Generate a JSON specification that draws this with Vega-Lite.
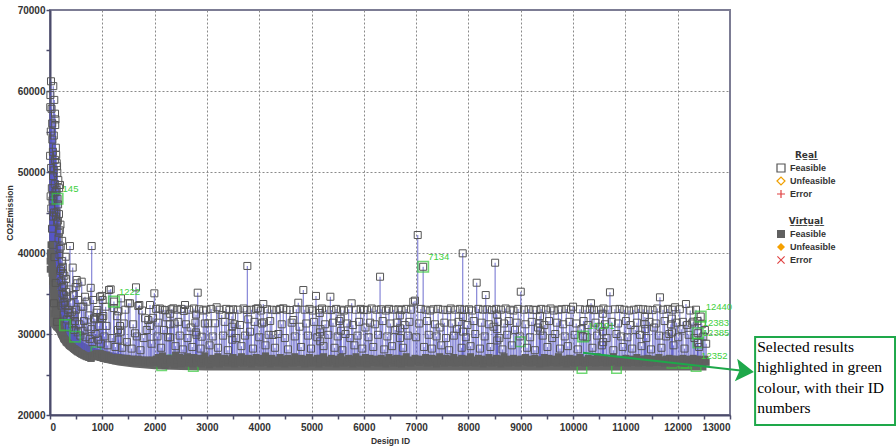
{
  "$schema": "https://vega.github.io/schema/vega-lite/v6.json",
  "width": 680,
  "height": 405,
  "autosize": {"type": "none"},
  "padding": {"left": 50, "top": 10, "right": 166, "bottom": 31},
  "background": "white",
  "datasets": {
    "band": [
      {"i": 0, "v": 31000, "v2": 42000}, {"i": 15, "v": 30900, "v2": 40500}, {"i": 30, "v": 30800, "v2": 39500},
      {"i": 60, "v": 30600, "v2": 37500}, {"i": 100, "v": 30300, "v2": 35500}, {"i": 150, "v": 29900, "v2": 34000},
      {"i": 200, "v": 29400, "v2": 32800}, {"i": 300, "v": 28600, "v2": 31300}, {"i": 400, "v": 28000, "v2": 30300},
      {"i": 500, "v": 27600, "v2": 29600}, {"i": 600, "v": 27300, "v2": 29100}, {"i": 800, "v": 26900, "v2": 28400},
      {"i": 1000, "v": 26500, "v2": 28000}, {"i": 1300, "v": 26100, "v2": 27600}, {"i": 1600, "v": 25850, "v2": 27300},
      {"i": 2000, "v": 25650, "v2": 27100}, {"i": 2500, "v": 25550, "v2": 26900}, {"i": 3000, "v": 25500, "v2": 26800},
      {"i": 12550, "v": 25500, "v2": 26750}
    ],
    "pts": [
      {"i":2,"v":52000,"b":39000},{"i":15,"v":55000,"b":40000},{"i":22,"v":50500,"b":39500},{"i":35,"v":48000,"b":38500},
      {"i":42,"v":56000,"b":38000},{"i":48,"v":46500,"b":37500},{"i":58,"v":49500,"b":36500},{"i":66,"v":47000,"b":36000},
      {"i":73,"v":54500,"b":35500},{"i":79,"v":45000,"b":35000},{"i":93,"v":51500,"b":34500},{"i":103,"v":47500,"b":34000},
      {"i":115,"v":44500,"b":33500},{"i":125,"v":47800,"b":33000},{"i":138,"v":43800,"b":32500},{"i":155,"v":46000,"b":32000},
      {"i":163,"v":41800,"b":31500},{"i":172,"v":44800,"b":31200},{"i":180,"v":39800,"b":31000},{"i":188,"v":42800,"b":30800},
      {"i":196,"v":37800,"b":30500},{"i":205,"v":40800,"b":30300},{"i":215,"v":36500,"b":30100},{"i":226,"v":39000,"b":30000},
      {"i":236,"v":35800,"b":29900},{"i":245,"v":38300,"b":29800},{"i":265,"v":34800,"b":29500},{"i":275,"v":37200,"b":29400},
      {"i":290,"v":33600,"b":29300},{"i":305,"v":36800,"b":29100},{"i":330,"v":34500,"b":28900},{"i":350,"v":32600,"b":28800},
      {"i":370,"v":35500,"b":28600},{"i":400,"v":33800,"b":28500},{"i":425,"v":31200,"b":28400},{"i":450,"v":34800,"b":28200},
      {"i":470,"v":32300,"b":28100},{"i":490,"v":35800,"b":28000},
      {"i":5,"v":58000,"b":38000},{"i":8,"v":59500,"b":40000},{"i":12,"v":47000,"b":39500},{"i":19,"v":61200,"b":41000},
      {"i":25,"v":45500,"b":40000},{"i":30,"v":57800,"b":39000},{"i":38,"v":43000,"b":37500},{"i":45,"v":54000,"b":38500},
      {"i":50,"v":41000,"b":36500},{"i":55,"v":52500,"b":37000},{"i":60,"v":44500,"b":36000},{"i":63,"v":60600,"b":37500},
      {"i":70,"v":50200,"b":35500},{"i":76,"v":33800,"b":32500},{"i":82,"v":58900,"b":36000},{"i":85,"v":39500,"b":34500},
      {"i":90,"v":48500,"b":35000},{"i":96,"v":57200,"b":34500},{"i":100,"v":55800,"b":34000},{"i":105,"v":56500,"b":33500},
      {"i":109,"v":36300,"b":33000},{"i":112,"v":53000,"b":33500},{"i":118,"v":52100,"b":33000},{"i":122,"v":45000,"b":32500},
      {"i":128,"v":51100,"b":32800},{"i":132,"v":31500,"b":30900},{"i":135,"v":50700,"b":32500},{"i":140,"v":49900,"b":32000},
      {"i":145,"v":46700,"b":32000},{"i":150,"v":44000,"b":31800},{"i":159,"v":49000,"b":31500},{"i":168,"v":42500,"b":31200},
      {"i":175,"v":48000,"b":31000},{"i":183,"v":40500,"b":30800},{"i":191,"v":48400,"b":30600},{"i":200,"v":43500,"b":30400},
      {"i":210,"v":38000,"b":30200},{"i":220,"v":33500,"b":30000},{"i":232,"v":41500,"b":30000},{"i":240,"v":35000,"b":29800},
      {"i":250,"v":37500,"b":29700},{"i":255,"v":33800,"b":29600},{"i":260,"v":32400,"b":29500},{"i":270,"v":36000,"b":29400},
      {"i":280,"v":34000,"b":29300},{"i":300,"v":39540,"b":29200},{"i":310,"v":35200,"b":29000},{"i":320,"v":31800,"b":29000},
      {"i":340,"v":33000,"b":28900},{"i":360,"v":30800,"b":28700},{"i":382,"v":40860,"b":28600},{"i":390,"v":32200,"b":28500},
      {"i":415,"v":32750,"b":28400},{"i":434,"v":38200,"b":28300},{"i":460,"v":30500,"b":28200},{"i":480,"v":31600,"b":28100},
      {"i":500,"v":33000,"b":28000},{"i":510,"v":36670,"b":27900},{"i":522,"v":36260,"b":27900},{"i":530,"v":30200,"b":27800},
      {"i":541,"v":34200,"b":27800},{"i":560,"v":31200,"b":27700},{"i":580,"v":29800,"b":27600},{"i":600,"v":33370,"b":27600},
      {"i":606,"v":36460,"b":27500},{"i":620,"v":30400,"b":27500},{"i":637,"v":33370,"b":27400},{"i":650,"v":31600,"b":27400},
      {"i":669,"v":34600,"b":27300},{"i":680,"v":29600,"b":27300},{"i":701,"v":33990,"b":27200},{"i":720,"v":30900,"b":27200},
      {"i":740,"v":32300,"b":27100},{"i":760,"v":29400,"b":27100},{"i":778,"v":35700,"b":27000},{"i":790,"v":30600,"b":27000},
      {"i":797,"v":40860,"b":27300},{"i":810,"v":29000,"b":27300},{"i":828,"v":34200,"b":27400},{"i":841,"v":31940,"b":27200},
      {"i":860,"v":31810,"b":27500},{"i":870,"v":30000,"b":27300},{"i":892,"v":32630,"b":27600},{"i":905,"v":32960,"b":27400},
      {"i":920,"v":29300,"b":27200},{"i":940,"v":31000,"b":27500},{"i":956,"v":34600,"b":27300},{"i":960,"v":32000,"b":27600},
      {"i":970,"v":28800,"b":27100},{"i":988,"v":34700,"b":27400},{"i":1000,"v":31940,"b":27200},{"i":1007,"v":34200,"b":27500},
      {"i":1019,"v":32220,"b":27000},{"i":1040,"v":29700,"b":27300},{"i":1064,"v":33370,"b":27100},{"i":1080,"v":31000,"b":27400},
      {"i":1100,"v":28600,"b":26900},{"i":1128,"v":35430,"b":27200},{"i":1160,"v":35510,"b":27000},{"i":1190,"v":29500,"b":26800},
      {"i":1220,"v":33200,"b":27100},{"i":1222,"v":34000,"b":26900},{"i":1250,"v":28400,"b":26700},{"i":1280,"v":32200,"b":27000},
      {"i":1300,"v":30500,"b":26800},{"i":1305,"v":32800,"b":27100},{"i":1310,"v":29300,"b":26700},{"i":1338,"v":30990,"b":26900},
      {"i":1351,"v":30280,"b":27000},{"i":1357,"v":34400,"b":26800},{"i":1380,"v":28300,"b":26600},{"i":1410,"v":31300,"b":26900},
      {"i":1440,"v":33000,"b":26700},{"i":1470,"v":29000,"b":27000},{"i":1497,"v":33790,"b":26600},{"i":1529,"v":33790,"b":26800},
      {"i":1560,"v":28200,"b":26500},{"i":1590,"v":31200,"b":26900},{"i":1625,"v":30090,"b":26600},{"i":1644,"v":35760,"b":26800},
      {"i":1660,"v":29700,"b":26500},{"i":1688,"v":33460,"b":26900},{"i":1708,"v":33580,"b":26600},{"i":1730,"v":28000,"b":26800},
      {"i":1760,"v":32900,"b":26500},{"i":1790,"v":29500,"b":26700},{"i":1816,"v":31940,"b":26400},{"i":1849,"v":30490,"b":26800},
      {"i":1879,"v":31730,"b":26500},{"i":1912,"v":33580,"b":26700},{"i":1915,"v":31000,"b":26400},{"i":1940,"v":28800,"b":26600},
      {"i":1970,"v":32000,"b":26800},{"i":1995,"v":35020,"b":26500},
      {"i":2030,"v":33100,"b":26900},{"i":2055,"v":29700,"b":26500},{"i":2070,"v":31400,"b":27100},{"i":2100,"v":33150,"b":26300},
      {"i":2125,"v":28300,"b":26700},{"i":2150,"v":33000,"b":27300},{"i":2180,"v":30500,"b":26500},{"i":2200,"v":32950,"b":26100},
      {"i":2230,"v":32060,"b":26800},{"i":2260,"v":29600,"b":27000},{"i":2292,"v":31200,"b":26600},{"i":2294,"v":29590,"b":26400},
      {"i":2297,"v":32500,"b":26800},{"i":2320,"v":33050,"b":26600},{"i":2357,"v":33170,"b":26900},{"i":2380,"v":31300,"b":26200},
      {"i":2400,"v":28500,"b":27400},{"i":2430,"v":33000,"b":26500},{"i":2455,"v":31500,"b":26800},{"i":2480,"v":29800,"b":27100},
      {"i":2510,"v":33100,"b":26300},{"i":2540,"v":28100,"b":26600},{"i":2560,"v":32850,"b":27000},{"i":2581,"v":33580,"b":26700},
      {"i":2600,"v":31200,"b":26400},{"i":2630,"v":29500,"b":27200},{"i":2660,"v":33000,"b":26500},{"i":2690,"v":30800,"b":26900},
      {"i":2720,"v":28400,"b":26300},{"i":2750,"v":33150,"b":27100},{"i":2780,"v":31400,"b":26600},{"i":2788,"v":30200,"b":26800},
      {"i":2792,"v":32400,"b":26500},{"i":2800,"v":29900,"b":26800},{"i":2824,"v":35100,"b":26400},{"i":2850,"v":33050,"b":27000},
      {"i":2880,"v":28200,"b":26600},{"i":2900,"v":29670,"b":26300},{"i":2930,"v":32900,"b":26900},{"i":2960,"v":31300,"b":27300},
      {"i":2990,"v":33000,"b":26500},{"i":3027,"v":31320,"b":26700},{"i":3050,"v":28600,"b":26200},{"i":3080,"v":33100,"b":26800},
      {"i":3110,"v":29700,"b":27000},{"i":3155,"v":31320,"b":26400},{"i":3186,"v":33300,"b":26600},{"i":3210,"v":28300,"b":27200},
      {"i":3240,"v":33000,"b":26300},{"i":3282,"v":32350,"b":26900},{"i":3310,"v":29800,"b":26500},{"i":3340,"v":31500,"b":27000},
      {"i":3370,"v":33100,"b":26700},{"i":3400,"v":28000,"b":26400},{"i":3430,"v":32950,"b":26800},{"i":3473,"v":30090,"b":26600},
      {"i":3478,"v":32200,"b":26900},{"i":3482,"v":30900,"b":26500},{"i":3485,"v":29300,"b":27000},{"i":3500,"v":33050,"b":27100},
      {"i":3530,"v":31200,"b":26300},{"i":3560,"v":29500,"b":26900},{"i":3590,"v":33000,"b":26500},{"i":3632,"v":31110,"b":26700},
      {"i":3660,"v":28500,"b":27200},{"i":3700,"v":33150,"b":26400},{"i":3730,"v":29800,"b":26800},{"i":3760,"v":32960,"b":26600},
      {"i":3773,"v":38400,"b":26500},{"i":3791,"v":31810,"b":27000},{"i":3823,"v":30280,"b":26700},{"i":3850,"v":33000,"b":26300},
      {"i":3880,"v":28200,"b":26900},{"i":3910,"v":31500,"b":26500},{"i":3940,"v":33100,"b":27100},{"i":3971,"v":33170,"b":26600},
      {"i":4000,"v":29600,"b":26800},{"i":4030,"v":32900,"b":26400},{"i":4050,"v":31300,"b":27000},{"i":4078,"v":33700,"b":26700},
      {"i":4090,"v":31440,"b":26500},{"i":4120,"v":28600,"b":27300},{"i":4150,"v":33050,"b":26600},{"i":4180,"v":29900,"b":26900},
      {"i":4210,"v":31600,"b":26300},{"i":4240,"v":33000,"b":27000},{"i":4269,"v":29880,"b":26700},{"i":4300,"v":28300,"b":26500},
      {"i":4330,"v":32950,"b":26800},{"i":4365,"v":30000,"b":26400},{"i":4400,"v":33100,"b":27100},{"i":4430,"v":31200,"b":26600},
      {"i":4460,"v":33170,"b":26900},{"i":4490,"v":29500,"b":26300},{"i":4520,"v":33000,"b":26700},{"i":4550,"v":28100,"b":27000},
      {"i":4588,"v":32960,"b":26500},{"i":4620,"v":31400,"b":26800},{"i":4651,"v":31730,"b":26400},{"i":4680,"v":29700,"b":27200},
      {"i":4710,"v":33050,"b":26600},{"i":4747,"v":33860,"b":26800},{"i":4770,"v":30900,"b":26500},{"i":4800,"v":28400,"b":27000},
      {"i":4843,"v":35430,"b":26700},{"i":4870,"v":33000,"b":26300},{"i":4900,"v":31300,"b":26900},{"i":4930,"v":29800,"b":26600},
      {"i":4960,"v":33100,"b":27100},{"i":4990,"v":28200,"b":26400},{"i":5020,"v":32900,"b":26800},{"i":5050,"v":31500,"b":26500},
      {"i":5085,"v":34700,"b":26700},{"i":5110,"v":29600,"b":27000},{"i":5140,"v":33000,"b":26300},{"i":5158,"v":32600,"b":26800},
      {"i":5162,"v":30200,"b":26500},{"i":5165,"v":29100,"b":27000},{"i":5170,"v":30600,"b":26900},{"i":5200,"v":33150,"b":26600},
      {"i":5230,"v":28500,"b":27200},{"i":5260,"v":31200,"b":26500},{"i":5290,"v":33000,"b":26800},{"i":5320,"v":29900,"b":26400},
      {"i":5360,"v":34600,"b":26700},{"i":5380,"v":32950,"b":27000},{"i":5410,"v":31400,"b":26600},{"i":5440,"v":28300,"b":26900},
      {"i":5470,"v":33100,"b":26300},{"i":5500,"v":29700,"b":26800},{"i":5530,"v":31600,"b":26500},{"i":5558,"v":31900,"b":26900},
      {"i":5560,"v":33000,"b":27100},{"i":5562,"v":30400,"b":26600},{"i":5590,"v":28000,"b":26700},{"i":5620,"v":32900,"b":26400},
      {"i":5650,"v":30000,"b":26800},{"i":5680,"v":31300,"b":26600},{"i":5710,"v":33050,"b":27000},{"i":5740,"v":29500,"b":26500},
      {"i":5767,"v":33790,"b":26900},{"i":5790,"v":31100,"b":26300},{"i":5820,"v":28600,"b":26700},{"i":5850,"v":33000,"b":27200},
      {"i":5880,"v":29800,"b":26500},{"i":5910,"v":31500,"b":26800},{"i":5940,"v":33100,"b":26400},{"i":5970,"v":28200,"b":26900},
      {"i":6000,"v":32950,"b":26600},{"i":6030,"v":30800,"b":27100},{"i":6060,"v":33000,"b":26300},{"i":6090,"v":29600,"b":26700},
      {"i":6120,"v":31400,"b":27000},{"i":6150,"v":33150,"b":26500},{"i":6180,"v":28400,"b":26800},{"i":6210,"v":31200,"b":26600},
      {"i":6240,"v":33000,"b":26900},{"i":6270,"v":29900,"b":26400},{"i":6310,"v":37070,"b":26700},{"i":6330,"v":33050,"b":27000},
      {"i":6360,"v":31600,"b":26500},{"i":6390,"v":28100,"b":26800},{"i":6420,"v":32900,"b":26300},{"i":6450,"v":29700,"b":26700},
      {"i":6480,"v":33100,"b":27100},{"i":6510,"v":31300,"b":26600},{"i":6540,"v":28500,"b":26900},{"i":6570,"v":33000,"b":26400},
      {"i":6600,"v":30500,"b":26800},{"i":6630,"v":31400,"b":27000},{"i":6660,"v":33050,"b":26500},{"i":6688,"v":32300,"b":26900},
      {"i":6690,"v":29500,"b":26700},{"i":6692,"v":30700,"b":26400},{"i":6720,"v":32950,"b":26300},{"i":6750,"v":28300,"b":26900},
      {"i":6780,"v":31100,"b":26600},{"i":6810,"v":33100,"b":27200},{"i":6840,"v":29800,"b":26500},{"i":6870,"v":31500,"b":26800},
      {"i":6900,"v":33000,"b":26400},{"i":6945,"v":33990,"b":26700},{"i":6978,"v":34120,"b":27000},{"i":7000,"v":29600,"b":26600},
      {"i":7030,"v":42220,"b":26800},{"i":7060,"v":31300,"b":26500},{"i":7090,"v":33100,"b":26900},{"i":7134,"v":38300,"b":26800},
      {"i":7150,"v":28400,"b":26700},{"i":7180,"v":33000,"b":27100},{"i":7210,"v":31600,"b":26400},{"i":7240,"v":29900,"b":26800},
      {"i":7270,"v":32900,"b":26600},{"i":7300,"v":28200,"b":27000},{"i":7330,"v":33050,"b":26500},{"i":7360,"v":31200,"b":26900},
      {"i":7390,"v":29700,"b":26300},{"i":7420,"v":33100,"b":26700},{"i":7450,"v":30800,"b":27200},{"i":7480,"v":28600,"b":26600},
      {"i":7510,"v":33000,"b":26800},{"i":7540,"v":31400,"b":26400},{"i":7570,"v":29500,"b":27000},{"i":7600,"v":32950,"b":26700},
      {"i":7630,"v":28000,"b":26500},{"i":7660,"v":33150,"b":26900},{"i":7690,"v":31300,"b":26600},{"i":7720,"v":29800,"b":27100},
      {"i":7750,"v":33000,"b":26400},{"i":7780,"v":30600,"b":26800},{"i":7810,"v":31500,"b":26500},{"i":7840,"v":33100,"b":26700},
      {"i":7870,"v":28300,"b":27000},{"i":7890,"v":39960,"b":26600},{"i":7893,"v":32100,"b":26900},{"i":7898,"v":30300,"b":26500},
      {"i":7920,"v":33000,"b":26800},{"i":7950,"v":29600,"b":26400},{"i":7980,"v":31100,"b":26900},{"i":8010,"v":33050,"b":26600},
      {"i":8040,"v":28500,"b":27200},{"i":8070,"v":32900,"b":26500},{"i":8100,"v":31600,"b":26800},{"i":8130,"v":30000,"b":26400},
      {"i":8157,"v":36330,"b":26700},{"i":8190,"v":33100,"b":27000},{"i":8220,"v":28200,"b":26600},{"i":8250,"v":31400,"b":26900},
      {"i":8280,"v":33000,"b":26300},{"i":8310,"v":29700,"b":26700},{"i":8330,"v":34810,"b":26500},{"i":8360,"v":33050,"b":26800},
      {"i":8390,"v":31200,"b":27100},{"i":8420,"v":28400,"b":26600},{"i":8450,"v":32950,"b":26400},{"i":8480,"v":30900,"b":26800},
      {"i":8510,"v":38800,"b":26600},{"i":8530,"v":33100,"b":27000},{"i":8543,"v":32400,"b":26700},{"i":8548,"v":30600,"b":26500},
      {"i":8550,"v":29200,"b":26900},{"i":8560,"v":31500,"b":26500},{"i":8590,"v":29500,"b":26900},{"i":8620,"v":33000,"b":26300},
      {"i":8650,"v":28100,"b":26700},{"i":8680,"v":31300,"b":27200},{"i":8710,"v":33150,"b":26500},{"i":8740,"v":29900,"b":26800},
      {"i":8770,"v":31600,"b":26400},{"i":8800,"v":33000,"b":26900},{"i":8830,"v":28600,"b":26600},{"i":8860,"v":32900,"b":27000},
      {"i":8890,"v":30500,"b":26500},{"i":8920,"v":31400,"b":26800},{"i":8950,"v":33100,"b":26400},{"i":8980,"v":29700,"b":26700},
      {"i":9000,"v":35220,"b":26900},{"i":9060,"v":33000,"b":26600},{"i":9090,"v":31200,"b":27100},{"i":9120,"v":28300,"b":26500},
      {"i":9150,"v":33050,"b":26800},{"i":9180,"v":29600,"b":26400},{"i":9210,"v":31500,"b":26900},{"i":9240,"v":33000,"b":26600},
      {"i":9270,"v":28000,"b":27000},{"i":9300,"v":32950,"b":26500},{"i":9330,"v":30800,"b":26700},{"i":9360,"v":31300,"b":26300},
      {"i":9368,"v":32200,"b":26800},{"i":9372,"v":30400,"b":26600},{"i":9390,"v":33100,"b":26800},{"i":9420,"v":29800,"b":26600},
      {"i":9450,"v":31100,"b":27100},{"i":9480,"v":33000,"b":26400},{"i":9510,"v":28400,"b":26700},{"i":9540,"v":31600,"b":27000},
      {"i":9570,"v":33150,"b":26500},{"i":9600,"v":29500,"b":26900},{"i":9630,"v":32900,"b":26600},{"i":9660,"v":30000,"b":26800},
      {"i":9690,"v":31400,"b":26400},{"i":9720,"v":33000,"b":27200},{"i":9750,"v":28200,"b":26500},{"i":9780,"v":33050,"b":26800},
      {"i":9810,"v":31200,"b":26600},{"i":9840,"v":29700,"b":26900},{"i":9870,"v":33100,"b":26300},{"i":9900,"v":28500,"b":26700},
      {"i":9930,"v":31500,"b":27000},{"i":9960,"v":33000,"b":26500},{"i":10000,"v":33370,"b":26800},{"i":10030,"v":29900,"b":26400},
      {"i":10060,"v":31300,"b":26900},{"i":10090,"v":28100,"b":26600},{"i":10130,"v":33050,"b":27100},{"i":10160,"v":30600,"b":26500},
      {"i":10191,"v":29700,"b":26700},{"i":10200,"v":31600,"b":26800},{"i":10230,"v":33000,"b":26400},{"i":10260,"v":29600,"b":26700},
      {"i":10290,"v":31100,"b":27000},{"i":10320,"v":33100,"b":26500},{"i":10343,"v":33800,"b":26900},{"i":10370,"v":28300,"b":26600},
      {"i":10400,"v":32950,"b":26800},{"i":10430,"v":31400,"b":26400},{"i":10460,"v":29800,"b":27200},{"i":10490,"v":33000,"b":26500},
      {"i":10520,"v":30900,"b":26700},{"i":10550,"v":28600,"b":26900},{"i":10568,"v":32500,"b":26600},{"i":10572,"v":30300,"b":26800},
      {"i":10575,"v":29000,"b":26500},{"i":10580,"v":33150,"b":26600},{"i":10610,"v":31200,"b":27000},{"i":10640,"v":29500,"b":26400},
      {"i":10670,"v":33000,"b":26800},{"i":10705,"v":35150,"b":26500},{"i":10740,"v":31500,"b":26700},{"i":10770,"v":28000,"b":27100},
      {"i":10800,"v":33050,"b":26600},{"i":10830,"v":30000,"b":26800},{"i":10860,"v":31300,"b":26400},{"i":10890,"v":33100,"b":26900},
      {"i":10920,"v":29700,"b":26500},{"i":10950,"v":28400,"b":26800},{"i":10980,"v":33000,"b":26600},{"i":11010,"v":31600,"b":27000},
      {"i":11040,"v":29600,"b":26400},{"i":11070,"v":32900,"b":26700},{"i":11100,"v":31100,"b":26900},{"i":11130,"v":28200,"b":26500},
      {"i":11160,"v":33000,"b":26800},{"i":11190,"v":30500,"b":26600},{"i":11220,"v":31400,"b":27100},{"i":11250,"v":33100,"b":26400},
      {"i":11280,"v":29900,"b":26700},{"i":11310,"v":28500,"b":26900},{"i":11340,"v":33050,"b":26500},{"i":11370,"v":31200,"b":26800},
      {"i":11373,"v":32100,"b":26600},{"i":11378,"v":30600,"b":26900},{"i":11400,"v":29500,"b":26600},{"i":11430,"v":33000,"b":27000},
      {"i":11460,"v":31500,"b":26400},{"i":11490,"v":28100,"b":26700},{"i":11520,"v":32950,"b":26900},{"i":11550,"v":30800,"b":26500},
      {"i":11580,"v":31300,"b":26800},{"i":11610,"v":33150,"b":26600},{"i":11640,"v":29800,"b":27100},{"i":11661,"v":34530,"b":26700},
      {"i":11690,"v":28300,"b":26500},{"i":11720,"v":33000,"b":26800},{"i":11750,"v":31600,"b":26400},{"i":11780,"v":29700,"b":26900},
      {"i":11810,"v":33100,"b":26600},{"i":11840,"v":30000,"b":27000},{"i":11870,"v":31200,"b":26500},{"i":11888,"v":31900,"b":26700},
      {"i":11892,"v":30200,"b":26900},{"i":11900,"v":33000,"b":26800},{"i":11920,"v":28600,"b":26400},{"i":11950,"v":33300,"b":26700},
      {"i":11980,"v":31400,"b":26900},{"i":12010,"v":29600,"b":26500},{"i":12040,"v":33050,"b":26800},{"i":12070,"v":30600,"b":26600},
      {"i":12100,"v":31500,"b":27000},{"i":12130,"v":28200,"b":26400},{"i":12158,"v":33700,"b":26700},{"i":12180,"v":31100,"b":26900},
      {"i":12210,"v":29900,"b":26500},{"i":12240,"v":32900,"b":26800},{"i":12270,"v":31300,"b":26600},{"i":12298,"v":31520,"b":27000},
      {"i":12320,"v":29500,"b":26400},{"i":12350,"v":33000,"b":26700},{"i":12380,"v":31600,"b":26900},{"i":12383,"v":30100,"b":26600},
      {"i":12385,"v":28900,"b":26800},{"i":12410,"v":28400,"b":26500},{"i":12440,"v":32150,"b":26700},{"i":12460,"v":31200,"b":26800},
      {"i":12490,"v":29700,"b":26600},{"i":12520,"v":30500,"b":26900},{"i":12545,"v":28800,"b":26500}
    ],
    "sel": [
      {"i": 145, "v": 46700, "l": "145"},
      {"i": 1222, "v": 34000, "l": "1222"},
      {"i": 7134, "v": 38300, "l": "7134"},
      {"i": 10191, "v": 29700, "l": "10191"},
      {"i": 12440, "v": 32150, "l": "12440"},
      {"i": 12383, "v": 30100, "l": "12383"},
      {"i": 12385, "v": 28900, "l": "12385"},
      {"i": 12352, "v": 26000, "l": "12352"},
      {"i": 287, "v": 31100, "l": ""},
      {"i": 478, "v": 29670, "l": ""},
      {"i": 880, "v": 27800, "l": ""},
      {"i": 2135, "v": 26090, "l": ""},
      {"i": 2346, "v": 26790, "l": ""},
      {"i": 2740, "v": 26000, "l": ""},
      {"i": 8990, "v": 29050, "l": ""},
      {"i": 10170, "v": 25750, "l": ""},
      {"i": 10830, "v": 25750, "l": ""},
      {"i": 11890, "v": 26380, "l": ""},
      {"i": 12110, "v": 26380, "l": ""},
      {"i": 12170, "v": 26380, "l": ""}
    ],
    "box": [{"i": 13480, "i2": 16155, "v": 29630, "v2": 18765}],
    "arrow": [{"i": 10190, "v": 27690, "i2": 13286, "v2": 25432}],
    "note": [{"i": 13520, "v": 28430, "t": "Selected results\nhighlighted in green\ncolour, with their ID\nnumbers"}]
  },
  "encoding": {
    "x": {
      "field": "i", "type": "quantitative", "title": "Design ID",
      "scale": {"domain": [0, 13000], "nice": false, "zero": false},
      "axis": {
        "values": [0,500,1000,1500,2000,2500,3000,3500,4000,4500,5000,5500,6000,6500,7000,7500,8000,8500,9000,9500,10000,10500,11000,11500,12000,12500,13000],
        "format": "d",
        "labelExpr": "datum.value % 1000 === 0 ? datum.label : ''",
        "gridOpacity": {"condition": {"test": "datum.value % 1000 === 0 && datum.value > 0 && datum.value < 13000", "value": 1}, "value": 0},
        "labelPadding": 3,
        "titlePadding": 4
      }
    },
    "y": {
      "field": "v", "type": "quantitative", "title": "CO2Emission",
      "scale": {"domain": [20000, 70000], "nice": false, "zero": false},
      "axis": {
        "values": [20000,25000,30000,35000,40000,45000,50000,55000,60000,65000,70000],
        "format": "d",
        "labelExpr": "datum.value % 10000 === 0 ? datum.label : ''",
        "gridOpacity": {"condition": {"test": "datum.value % 10000 === 0 && datum.value > 20000 && datum.value < 70000", "value": 1}, "value": 0},
        "labelPadding": 1,
        "titlePadding": 3
      }
    }
  },
  "layer": [
    {
      "data": {"name": "band"},
      "mark": {"type": "area", "color": "#666666", "opacity": 1},
      "encoding": {
        "y": {"field": "v", "type": "quantitative", "title": "CO2Emission", "scale": {"domain": [20000, 70000], "nice": false, "zero": false}},
        "y2": {"field": "v2"}
      }
    },
    {
      "data": {"name": "pts"},
      "mark": {"type": "rule", "color": "#5858c8", "strokeWidth": 1.2, "opacity": 0.72},
      "encoding": {
        "y2": {"field": "b"}
      }
    },
    {
      "data": {"name": "sel"},
      "transform": [{"filter": "datum.v <= 29100"}],
      "mark": {"type": "point", "shape": "square", "filled": false, "size": 90, "color": "#35c83a", "strokeWidth": 1.5}
    },
    {
      "data": {"name": "pts"},
      "mark": {"type": "point", "filled": true, "size": 49, "opacity": 1},
      "encoding": {
        "y": {"field": "b", "type": "quantitative", "title": "CO2Emission", "scale": {"domain": [20000, 70000], "nice": false, "zero": false}},
        "shape": {
          "datum": "Feasible\u200b", "type": "nominal",
          "scale": {"domain": ["Feasible\u200b", "Unfeasible\u200b", "Error\u200b"], "range": ["square", "diamond", "M-1,-0.8L-0.8,-1L0,-0.2L0.8,-1L1,-0.8L0.2,0L1,0.8L0.8,1L0,0.2L-0.8,1L-1,0.8L-0.2,0Z"]},
          "legend": {"title": "V\u0332i\u0332r\u0332t\u0332u\u0332a\u0332l\u0332", "orient": "none", "legendX": 726, "legendY": 207, "rowPadding": 3}
        },
        "color": {
          "datum": "Feasible\u200b", "type": "nominal",
          "scale": {"domain": ["Feasible\u200b", "Unfeasible\u200b", "Error\u200b"], "range": ["#606060", "#f5a000", "#e04040"]},
          "legend": {"title": "V\u0332i\u0332r\u0332t\u0332u\u0332a\u0332l\u0332", "orient": "none", "legendX": 726, "legendY": 207, "rowPadding": 3}
        }
      }
    },
    {
      "data": {"name": "pts"},
      "mark": {"type": "point", "filled": false, "size": 49, "strokeWidth": 1, "opacity": 1},
      "encoding": {
        "shape": {
          "datum": "Feasible", "type": "nominal",
          "scale": {"domain": ["Feasible", "Unfeasible", "Error"], "range": ["square", "diamond", "M-1,0H1M0,-1V1"]},
          "legend": {"title": "R\u0332e\u0332a\u0332l\u0332", "orient": "none", "legendX": 726, "legendY": 141, "rowPadding": -1}
        },
        "color": {
          "datum": "Feasible", "type": "nominal",
          "scale": {"domain": ["Feasible", "Unfeasible", "Error"], "range": ["#555555", "#f0a000", "#e04040"]},
          "legend": {"title": "R\u0332e\u0332a\u0332l\u0332", "orient": "none", "legendX": 726, "legendY": 141, "rowPadding": -1}
        }
      }
    },
    {
      "data": {"name": "sel"},
      "transform": [{"filter": "datum.v > 29100"}],
      "mark": {"type": "point", "shape": "square", "filled": false, "size": 110, "color": "#35c83a", "strokeWidth": 1.6}
    },
    {
      "data": {"name": "sel"},
      "mark": {"type": "text", "align": "left", "baseline": "middle", "dx": 5, "dy": -10, "font": "Liberation Sans", "fontSize": 9.5, "color": "#3dd03d"},
      "encoding": {"text": {"field": "l"}}
    },
    {
      "data": {"name": "box"},
      "mark": {"type": "rect", "fill": "white", "stroke": "#1ea84a", "strokeWidth": 2},
      "encoding": {"x2": {"field": "i2"}, "y2": {"field": "v2"}}
    },
    {
      "data": {"name": "arrow"},
      "mark": {"type": "rule", "color": "#1ea84a", "strokeWidth": 2},
      "encoding": {"x2": {"field": "i2"}, "y2": {"field": "v2"}}
    },
    {
      "data": {"name": "arrow"},
      "mark": {"type": "point", "shape": "M-1,-1.25L1,0L-1,1.25L-0.6,0Z", "filled": true, "size": 324, "angle": 6, "color": "#1ea84a", "opacity": 1},
      "encoding": {
        "x": {"field": "i2", "type": "quantitative", "scale": {"domain": [0, 13000], "nice": false, "zero": false}},
        "y": {"field": "v2", "type": "quantitative", "scale": {"domain": [20000, 70000], "nice": false, "zero": false}}
      }
    },
    {
      "data": {"name": "note"},
      "mark": {"type": "text", "align": "left", "baseline": "middle", "lineBreak": "\n", "lineHeight": 20.5, "font": "Liberation Serif", "fontSize": 15.5, "color": "#000000"},
      "encoding": {"text": {"field": "t"}}
    }
  ],
  "resolve": {"scale": {"color": "independent", "shape": "independent"}},
  "config": {
    "font": "Liberation Sans",
    "view": {"stroke": "#7c7c94", "strokeWidth": 2},
    "axis": {
      "domainColor": "#4b4b6b",
      "domainWidth": 2,
      "tickColor": "#4b4b6b",
      "tickWidth": 1.5,
      "tickSize": 4,
      "gridColor": "#8a8a8a",
      "gridDash": [2, 2],
      "gridWidth": 1,
      "labelFont": "Liberation Sans",
      "labelFontSize": 10,
      "labelFontWeight": "bold",
      "labelColor": "#333333",
      "titleFont": "Liberation Sans",
      "titleFontSize": 8.5,
      "titleFontWeight": "bold",
      "titleColor": "#333333"
    },
    "legend": {
      "labelFont": "Liberation Sans",
      "labelFontSize": 9,
      "labelFontWeight": "bold",
      "labelColor": "#333333",
      "titleFont": "DejaVu Sans",
      "titleFontSize": 9,
      "titleFontWeight": "bold",
      "titleColor": "#333333",
      "titleAnchor": "middle",
      "symbolSize": 64,
      "symbolStrokeWidth": 1.2,
      "labelOffset": 4,
      "titlePadding": 3
    }
  }
}
